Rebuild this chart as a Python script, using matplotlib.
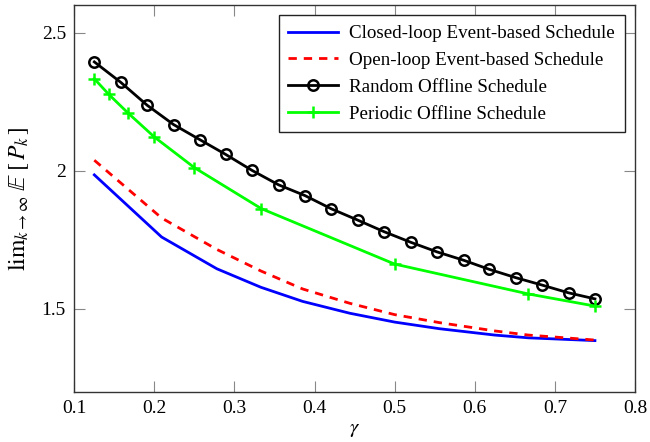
import matplotlib
matplotlib.use('Agg')
import matplotlib.pyplot as plt

plt.rcParams['font.family'] = ['Liberation Serif', 'DejaVu Serif']
plt.rcParams['mathtext.fontset'] = 'stix'

# closed-loop event-based schedule
gamma_ev = [0.125, 0.209, 0.278, 0.333, 0.385, 0.444, 0.5, 0.556, 0.625, 0.667, 0.75]
closed_loop = [1.985, 1.760, 1.645, 1.578, 1.527, 1.484, 1.452, 1.428, 1.405, 1.395, 1.385]
# open-loop event-based schedule
open_loop = [2.038, 1.829, 1.715, 1.637, 1.572, 1.520, 1.479, 1.450, 1.420, 1.405, 1.387]

# random offline schedule
gamma_rand = [0.125, 0.158, 0.191, 0.224, 0.257, 0.289, 0.322, 0.355, 0.388, 0.421,
              0.454, 0.487, 0.520, 0.553, 0.586, 0.618, 0.651, 0.684, 0.717, 0.750]
random_off = [2.394, 2.320, 2.237, 2.167, 2.112, 2.059, 2.001, 1.949, 1.910, 1.862,
              1.821, 1.779, 1.741, 1.706, 1.676, 1.643, 1.613, 1.586, 1.558, 1.536]

# periodic offline schedule
gamma_per = [1/8, 1/7, 1/6, 1/5, 1/4, 1/3, 1/2, 2/3, 3/4]
periodic_off = [2.333, 2.277, 2.210, 2.122, 2.011, 1.863, 1.662, 1.554, 1.510]

fig = plt.figure(figsize=(6.5, 4.42), dpi=100)
ax = fig.add_axes([0.1143, 0.1138, 0.8626, 0.8749])

ax.plot(gamma_ev, closed_loop, color='#0000ff', lw=2, label='Closed-loop Event-based Schedule')
ax.plot(gamma_ev, open_loop, color='#ff0000', lw=2, ls=(0, (3, 2.5)), label='Open-loop Event-based Schedule')
ax.plot(gamma_rand, random_off, color='black', lw=2, marker='o', ms=7.5, mfc='none', mew=1.8,
        label='Random Offline Schedule')
ax.plot(gamma_per, periodic_off, color='#00ff00', lw=2, marker='+', ms=9, mew=1.8,
        label='Periodic Offline Schedule')

ax.set_xlim(0.1, 0.8)
ax.set_ylim(1.2, 2.6)
ax.set_xticks([0.1, 0.2, 0.3, 0.4, 0.5, 0.6, 0.7, 0.8])
ax.set_xticklabels(['0.1', '0.2', '0.3', '0.4', '0.5', '0.6', '0.7', '0.8'])
ax.set_yticks([1.5, 2, 2.5])
ax.set_yticklabels(['1.5', '2', '2.5'])
ax.tick_params(direction='in', length=8, width=0.8, color='#888888', labelsize=14,
               top=True, right=True, pad=6)
for s in ax.spines.values():
    s.set_linewidth(1.0)
    s.set_color('#333333')

ax.set_xlabel(r'$\gamma$', fontsize=15, labelpad=2)
ax.set_ylabel(r'$\mathrm{lim}_{k\to\infty}\;\mathbb{E}\;[\,P_k\,]$', fontsize=17, labelpad=8)

leg = ax.legend(loc='upper right', fontsize=13.7, fancybox=False, framealpha=1,
                edgecolor='#222222', borderpad=0.5, labelspacing=0.5,
                handlelength=2.6, handletextpad=0.6, borderaxespad=0.55)
leg.get_frame().set_linewidth(1.0)

fig.savefig('out.png', dpi=100)
